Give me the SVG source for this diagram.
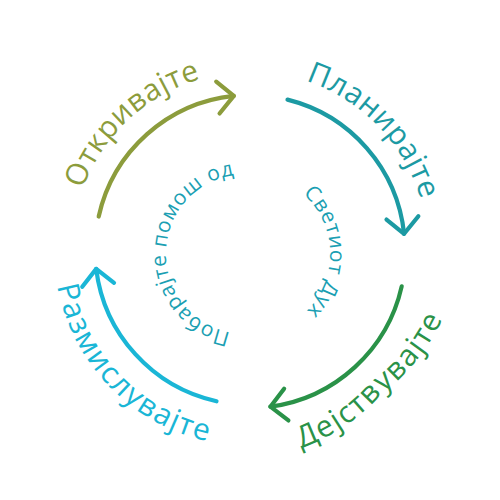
<svg xmlns="http://www.w3.org/2000/svg" width="500" height="500" viewBox="0 0 500 500">
<style>
text{font-family:"Open Sans","Noto Sans","Liberation Sans",sans-serif}
.outer{font-size:30px;letter-spacing:0.5px}
.lower{letter-spacing:1.6px}
.inner{font-size:21px;letter-spacing:0.7px;fill:#1b9fb3}
.arc{fill:none;stroke-width:4.2;stroke-linecap:round}
</style>
<defs>
<marker id="ah-olive" markerUnits="userSpaceOnUse" orient="auto" overflow="visible" markerWidth="1" markerHeight="1"><path d="M-16,-16 L0,0 L-16,16" fill="none" stroke="#8c9c3c" stroke-width="4.2" stroke-linecap="round" stroke-linejoin="round"/></marker>
<marker id="ah-teal" markerUnits="userSpaceOnUse" orient="auto" overflow="visible" markerWidth="1" markerHeight="1"><path d="M-16,-16 L0,0 L-16,16" fill="none" stroke="#1c9aa3" stroke-width="4.2" stroke-linecap="round" stroke-linejoin="round"/></marker>
<marker id="ah-green" markerUnits="userSpaceOnUse" orient="auto" overflow="visible" markerWidth="1" markerHeight="1"><path d="M-16,-16 L0,0 L-16,16" fill="none" stroke="#2a9248" stroke-width="4.2" stroke-linecap="round" stroke-linejoin="round"/></marker>
<marker id="ah-cyan" markerUnits="userSpaceOnUse" orient="auto" overflow="visible" markerWidth="1" markerHeight="1"><path d="M-16,-16 L0,0 L-16,16" fill="none" stroke="#1ab6d6" stroke-width="4.2" stroke-linecap="round" stroke-linejoin="round"/></marker>
<path id="p-otk" d="M371.4,380.2 A178,178 0 1 1 128.6,119.8 A178,178 0 1 1 371.4,380.2"/>
<path id="p-pla" d="M122,373.7 A178,178 0 1 1 378,126.3 A178,178 0 1 1 122,373.7"/>
<path id="p-dej" d="M118,106.5 A196,196 0 1 0 382,393.5 A196,196 0 1 0 118,106.5"/>
<path id="p-raz" d="M390.5,113.3 A196,196 0 1 0 109.5,386.7 A196,196 0 1 0 390.5,113.3"/>
<path id="p-pob" d="M323.97,256.07 A79,79 0 1 1 166.03,251.93 A79,79 0 1 1 323.97,256.07"/>
<path id="p-svt" d="M172.03,256.07 A79,79 0 1 1 329.97,251.93 A79,79 0 1 1 172.03,256.07"/>
</defs>
<g id="connectors">
<path class="arc" stroke="#8c9c3c" d="M98.7,216.5 A155,155 0 0 1 233.8,95.9" marker-end="url(#ah-olive)"/>
<path class="arc" stroke="#1c9aa3" d="M287.5,99.6 A155,155 0 0 1 404.1,233.8" marker-end="url(#ah-teal)"/>
<path class="arc" stroke="#2a9248" d="M401.7,286.4 A156,156 0 0 1 270.4,406.7" marker-end="url(#ah-green)"/>
<path class="arc" stroke="#1ab6d6" d="M216.5,401.3 A155,155 0 0 1 96.2,268.9" marker-end="url(#ah-cyan)"/>
</g>
<g id="node-otkrivajte"><text class="outer" fill="#8c9c3c"><textPath href="#p-otk" startOffset="50%" text-anchor="middle">Откривајте</textPath></text></g>
<g id="node-planirajte"><text class="outer" fill="#1c9aa3"><textPath href="#p-pla" startOffset="50%" text-anchor="middle">Планирајте</textPath></text></g>
<g id="node-dejstvuvajte"><text class="outer lower" fill="#2a9248"><textPath href="#p-dej" startOffset="50%" text-anchor="middle">Дејствувајте</textPath></text></g>
<g id="node-razmisluvajte"><text class="outer lower" fill="#1ab6d6"><textPath href="#p-raz" startOffset="50%" text-anchor="middle">Размислувајте</textPath></text></g>
<g id="node-pobarajte"><text class="inner"><textPath href="#p-pob" startOffset="50%" text-anchor="middle">Побарајте помош од</textPath></text></g>
<g id="node-svetiot"><text class="inner"><textPath href="#p-svt" startOffset="50%" text-anchor="middle">Светиот Дух</textPath></text></g>
</svg>
